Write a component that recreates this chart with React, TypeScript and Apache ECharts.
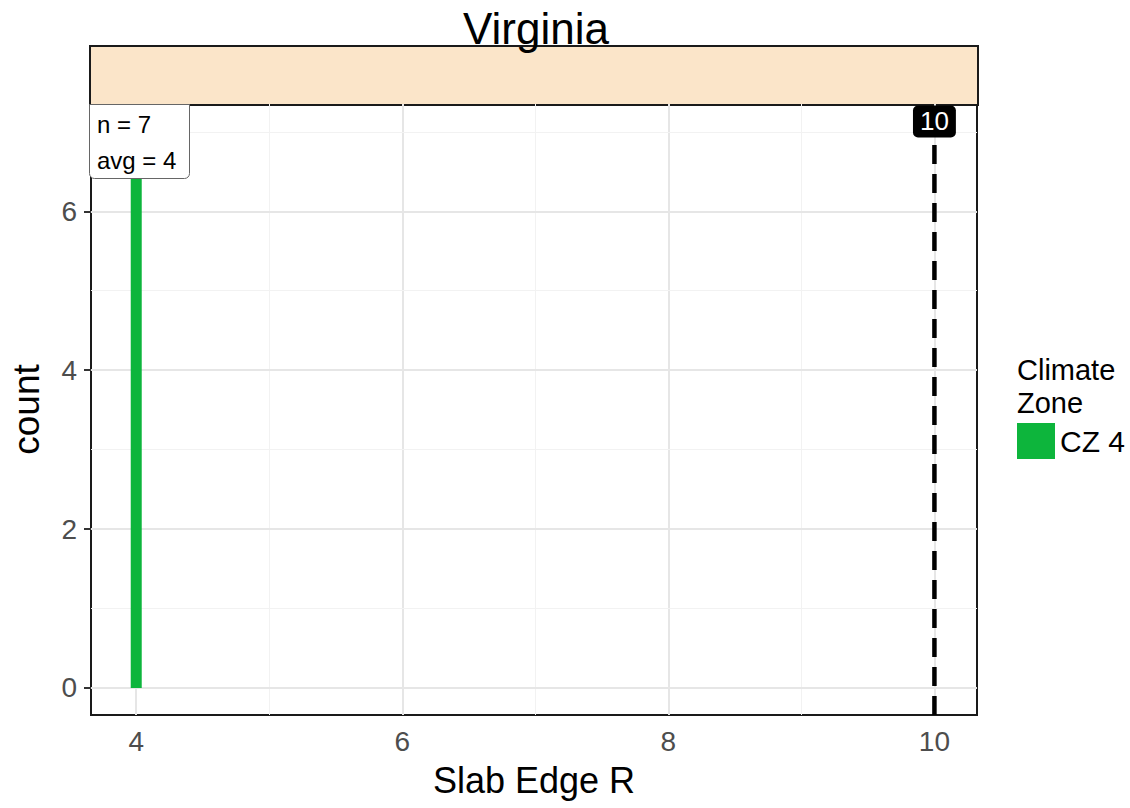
import React, { useEffect, useRef } from "react";
import * as echarts from "echarts";

const titleText = "Virginia";
const xValues = [4];
const counts = [7];
const seriesName = "CZ 4";
const xTicks = [4, 6, 8, 10];
const xMinor = [5, 7, 9];
const yTicks = [0, 2, 4, 6];
const yMinor = [1, 3, 5, 7];
const vlineValue = 10;
const vlineLabel = "10";
const statN = 7;
const statAvg = 4;
const xRange = [3.66, 10.32];
const yRange = [-0.34, 7.35];
const vlineTop = 6.93;
const vlineLabelY = 7.13;

const FONT = "'Liberation Sans', Arial, sans-serif";
const GREEN = "#0DB53C";

export default function App() {
  const ref = useRef<HTMLDivElement>(null);
  useEffect(() => {
    document.body.style.margin = "0";
    const chart = echarts.init(ref.current!, undefined, { renderer: "svg" });
    const G = { left: 89, top: 104, width: 888, height: 611 };
    const option: any = {
      animation: false,
      backgroundColor: "#fff",
      textStyle: { fontFamily: FONT },
      title: {
        text: titleText,
        left: 531,
        textAlign: "center",
        top: 1,
        z: 20,
        textStyle: { fontSize: 44, fontWeight: "normal", color: "#000", fontFamily: FONT },
      },
      grid: { ...G, show: true, borderColor: "#1a1a1a", borderWidth: 2, backgroundColor: "#fff" },
      legend: {
        left: 1012,
        top: 418,
        itemWidth: 38,
        itemHeight: 36,
        itemGap: 4,
        icon: "rect",
        data: [seriesName],
        textStyle: { fontSize: 30, color: "#000", fontFamily: FONT },
      },
      xAxis: {
        type: "value",
        min: xRange[0],
        max: xRange[1],
        name: "Slab Edge R",
        nameLocation: "middle",
        nameGap: 47,
        nameTextStyle: { fontSize: 36, color: "#000", fontFamily: FONT },
        axisLine: { show: false },
        splitLine: { show: false },
        axisTick: { show: true, customValues: xTicks, length: 7, lineStyle: { color: "#333", width: 2 } },
        axisLabel: { customValues: xTicks, fontSize: 28, color: "#4d4d4d", margin: 12, fontFamily: FONT },
      },
      yAxis: {
        type: "value",
        min: yRange[0],
        max: yRange[1],
        name: "count",
        nameLocation: "middle",
        nameGap: 46,
        nameTextStyle: { fontSize: 37, color: "#000", fontFamily: FONT },
        axisLine: { show: false },
        splitLine: { show: false },
        axisTick: { show: true, customValues: yTicks, length: 7, lineStyle: { color: "#333", width: 2 } },
        axisLabel: { customValues: yTicks, fontSize: 28, color: "#4d4d4d", margin: 14, fontFamily: FONT },
      },
      series: [
        {
          type: "line",
          name: "gridlines",
          data: [],
          silent: true,
          z: 1,
          markLine: {
            silent: true,
            z: 1,
            symbol: ["none", "none"],
            label: { show: false },
            animation: false,
            data: [
              ...xTicks.map((v) => ({ xAxis: v, lineStyle: { color: "#e6e6e6", width: 2, type: "solid" } })),
              ...xMinor.map((v) => ({ xAxis: v, lineStyle: { color: "#f2f2f2", width: 1, type: "solid" } })),
              ...yTicks.map((v) => ({ yAxis: v, lineStyle: { color: "#e6e6e6", width: 2, type: "solid" } })),
              ...yMinor.map((v) => ({ yAxis: v, lineStyle: { color: "#f2f2f2", width: 1, type: "solid" } })),
            ],
          },
        },
        {
          type: "bar",
          name: seriesName,
          data: xValues.map((x, i) => [x, counts[i]]),
          barWidth: 11,
          itemStyle: { color: GREEN },
          z: 6,
        },
        {
          type: "line",
          name: "vline",
          data: [
            [vlineValue, yRange[0]],
            [vlineValue, vlineTop],
          ],
          symbol: "none",
          lineStyle: { color: "#000", width: 4.5, type: [19, 10] },
          z: 7,
        },
        {
          type: "scatter",
          name: "vlineLabel",
          data: [[vlineValue, vlineLabelY]],
          symbolSize: 1,
          itemStyle: { color: "rgba(0,0,0,0)", opacity: 1 },
          z: 8,
          label: {
            show: true,
            position: "inside",
            formatter: vlineLabel,
            color: "#fff",
            opacity: 1,
            fontSize: 26,
            fontFamily: FONT,
            backgroundColor: "#000",
            padding: [4, 7, 2, 7],
            borderRadius: 5,
          },
        },
      ],
      graphic: [
        {
          type: "rect",
          left: 89,
          top: 45,
          shape: { width: 888, height: 59 },
          style: { fill: "#FBE5C9", stroke: "#1a1a1a", lineWidth: 2 },
          z: 1,
        },
        {
          type: "rect",
          left: 89,
          top: 104,
          shape: { width: 100, height: 74, r: [0, 0, 5, 5] },
          style: { fill: "#fff", stroke: "#666", lineWidth: 1 },
          z: 20,
        },
        {
          type: "text",
          left: 97,
          top: 106,
          style: {
            text: `n = ${statN}\navg = ${statAvg}`,
            fontSize: 24,
            lineHeight: 36,
            fill: "#000",
            fontFamily: FONT,
          },
          z: 21,
        },
        {
          type: "text",
          left: 1017,
          top: 353,
          style: {
            text: "Climate\nZone",
            fontSize: 29,
            lineHeight: 33,
            fill: "#000",
            fontFamily: FONT,
          },
          z: 21,
        },
      ],
    };
    chart.setOption(option);
    return () => chart.dispose();
  }, []);
  return <div ref={ref} style={{ width: 1130, height: 808 }} />;
}
